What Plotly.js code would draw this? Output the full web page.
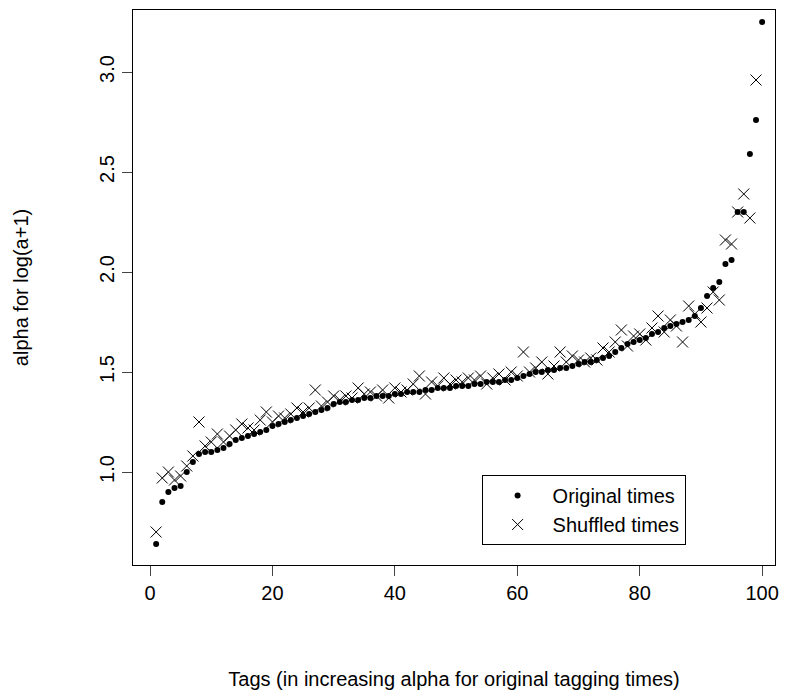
<!DOCTYPE html>
<html><head><script src="https://cdn.plot.ly/plotly-3.0.1.min.js"></script></head>
<body style="margin:0"><div id="graph" style="width:786px;height:698px"></div>
<script>
var original = [0.64,0.85,0.90,0.92,0.93,1.00,1.05,1.09,1.10,1.10,
1.11,1.12,1.14,1.16,1.17,1.18,1.19,1.20,1.21,1.23,
1.24,1.25,1.26,1.27,1.28,1.29,1.30,1.31,1.32,1.34,
1.35,1.35,1.36,1.36,1.37,1.37,1.38,1.38,1.38,1.39,
1.39,1.40,1.40,1.40,1.41,1.41,1.42,1.42,1.42,1.43,
1.43,1.43,1.44,1.44,1.45,1.45,1.45,1.46,1.46,1.47,
1.48,1.49,1.50,1.50,1.51,1.51,1.52,1.52,1.53,1.54,
1.55,1.55,1.56,1.57,1.58,1.60,1.62,1.64,1.65,1.66,
1.67,1.69,1.70,1.72,1.73,1.74,1.75,1.76,1.78,1.82,
1.88,1.92,1.95,2.04,2.06,2.30,2.30,2.59,2.76,3.25];
var shuffled = [0.70,0.97,1.00,0.96,0.98,1.03,1.08,1.25,1.13,1.15,
1.19,1.15,1.18,1.21,1.24,1.22,1.21,1.26,1.30,1.25,
1.28,1.27,1.29,1.32,1.30,1.32,1.41,1.33,1.35,1.38,
1.36,1.38,1.37,1.42,1.39,1.40,1.38,1.41,1.37,1.42,
1.40,1.41,1.44,1.48,1.39,1.45,1.43,1.47,1.44,1.46,
1.45,1.47,1.46,1.48,1.44,1.47,1.49,1.46,1.50,1.48,
1.60,1.50,1.52,1.55,1.49,1.53,1.60,1.55,1.58,1.56,
1.55,1.57,1.56,1.62,1.60,1.65,1.71,1.63,1.68,1.69,
1.66,1.72,1.78,1.70,1.76,1.73,1.65,1.83,1.79,1.75,
1.82,1.90,1.86,2.16,2.14,2.30,2.39,2.27,2.96];
var idx = function(a){ return a.map(function(d,i){ return i+1; }); };

var trace1 = {x: idx(original), y: original, mode: 'markers', type: 'scatter', name: 'Original times',
  marker: {symbol: 'circle', size: 6, color: 'black'}};
var trace2 = {x: idx(shuffled), y: shuffled, mode: 'markers', type: 'scatter', name: 'Shuffled times',
  marker: {symbol: 'x-thin-open', size: 11, line: {width: 1, color: 'black'}, color: 'black'}};

var axfont = {family: 'Liberation Sans, Arial', size: 20, color: 'black'};
var layout = {
  width: 786, height: 698, showlegend: true,
  margin: {l: 133, r: 11, t: 10, b: 133},
  paper_bgcolor: 'white', plot_bgcolor: 'white',
  font: axfont,
  xaxis: {range: [-2.78, 102.1], tickvals: [0,20,40,60,80,100], ticks: 'outside', ticklen: 10,
    showgrid: false, zeroline: false, showline: true, mirror: true, linecolor: 'black',
    title: {text: 'Tags (in increasing alpha for original tagging times)', font: axfont, standoff: 68}},
  yaxis: {range: [0.535, 3.31], tickvals: [1,1.5,2,2.5,3], ticktext: ['1.0','1.5','2.0','2.5','3.0'],
    tickangle: -90, ticks: 'outside', ticklen: 10,
    showgrid: false, zeroline: false, showline: true, mirror: true, linecolor: 'black',
    title: {text: 'alpha for log(a+1)', font: axfont, standoff: 62}},
  legend: {x: 0.543, y: 0.036, xanchor: 'left', yanchor: 'bottom', bordercolor: 'black', borderwidth: 1,
    bgcolor: 'white', font: axfont, itemwidth: 60, entrywidth: 290}
};
Plotly.newPlot('graph', [trace1, trace2], layout, {displayModeBar: false});
</script></body></html>
